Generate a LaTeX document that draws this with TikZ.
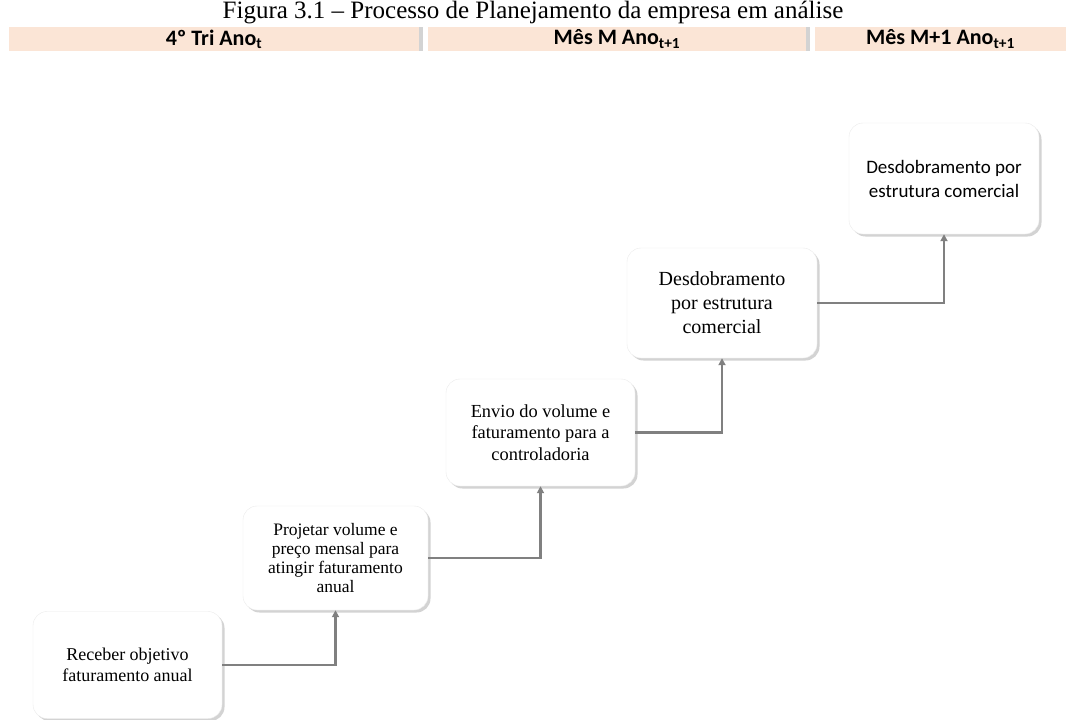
\documentclass[tikz,border=0pt]{standalone}
\usepackage{fontspec}
\setmainfont{Liberation Serif}
\newfontfamily\calibri{Carlito}
\usetikzlibrary{arrows.meta,shadows}

\definecolor{peach}{HTML}{FBE5D6}
\definecolor{linegray}{HTML}{808080}

\begin{document}
\begin{tikzpicture}[x=1pt,y=-1pt,>={Triangle[length=7pt,width=7pt]},
    stepbox/.style={draw=black!8,fill=white,rounded corners=14pt,
      minimum width=189pt,minimum height=107pt,align=center,inner sep=3pt,
      drop shadow={shadow xshift=2.5pt,shadow yshift=-2.5pt,opacity=0.35}},
    headbar/.style={fill=peach,minimum height=24pt,inner sep=0pt,
      font=\calibri\bfseries\fontsize{22}{25}\selectfont,
      drop shadow={shadow xshift=4pt,shadow yshift=0pt,opacity=0.35}},
    link/.style={draw=linegray,line width=2.8pt,->}]

    \useasboundingbox (0,0) rectangle (1066,720);

    % titulo
    \node[anchor=base,font=\fontsize{25}{29}\selectfont] (caption) at (533,19)
      {Figura 3.1 – Processo de Planejamento da empresa em análise};

    % faixas de periodo
    \node[headbar,minimum width=410pt] (tri) at (214,39) {4º Tri Ano\textsubscript{t}};
    \node[headbar,minimum width=378pt] (mesm) at (617,39) {Mês M Ano\textsubscript{t+1}};
    \node[headbar,minimum width=251pt] (mesm1) at (940.5,39) {Mês M+1 Ano\textsubscript{t+1}};

    % etapas
    \node[stepbox,font=\fontsize{18}{21}\selectfont] (recv) at (127.5,665)
      {Receber objetivo\\faturamento anual};
    \node[stepbox,minimum width=185pt,minimum height=104pt,font=\fontsize{17.5}{19}\selectfont] (proj) at (335.5,558)
      {Projetar volume e\\preço mensal para\\atingir faturamento\\anual};
    \node[stepbox,font=\fontsize{18.4}{21.5}\selectfont] (envio) at (540.5,432.5)
      {Envio do volume e\\faturamento para a\\controladoria};
    \node[stepbox,minimum width=190pt,minimum height=110pt,font=\fontsize{20}{24}\selectfont] (desd) at (722,303)
      {Desdobramento\\por estrutura\\comercial};
    \node[stepbox,minimum width=190pt,minimum height=111pt,font=\calibri\fontsize{19}{24}\selectfont] (estr) at (944,178.5)
      {Desdobramento por\\estrutura comercial};

    \foreach \a/\b in {recv/proj,proj/envio,envio/desd,desd/estr}
      \draw[link] (\a.east) -| (\b.south);

\end{tikzpicture}
\end{document}
